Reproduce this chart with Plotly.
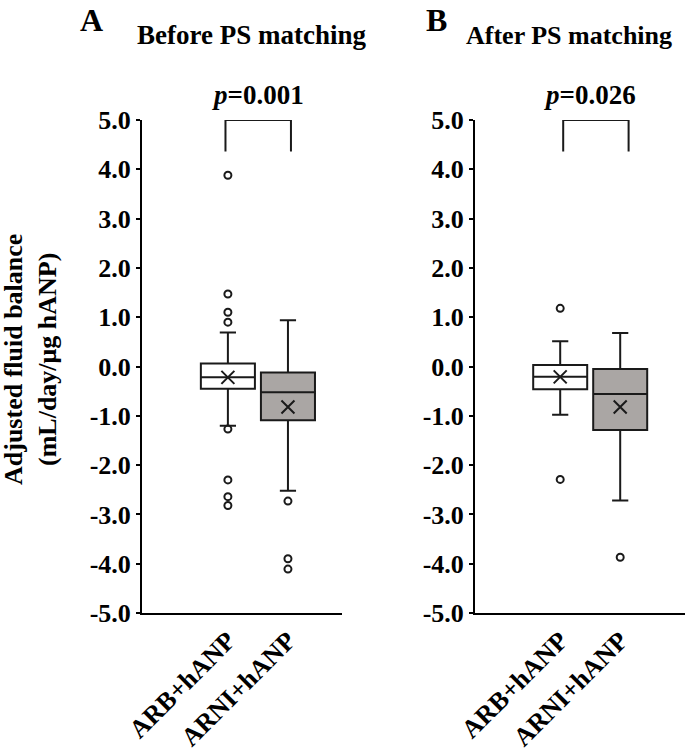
import plotly.graph_objects as go
from plotly.subplots import make_subplots

groups = ["ARB+hANP", "ARNI+hANP"]
positions = [0, 1]

# Before PS matching
before_q1 = [-0.45, -1.09]
before_median = [-0.22, -0.52]
before_q3 = [0.06, -0.12]
before_lower = [-1.20, -2.52]
before_upper = [0.69, 0.94]
before_mean = [-0.22, -0.82]
before_outliers_arb = [3.88, 1.47, 1.10, 0.90, -1.27, -2.30, -2.64, -2.82]
before_outliers_arni = [-2.73, -3.90, -4.11]

# After PS matching
after_q1 = [-0.46, -1.29]
after_median = [-0.21, -0.56]
after_q3 = [0.03, -0.05]
after_lower = [-0.98, -2.72]
after_upper = [0.51, 0.68]
after_mean = [-0.21, -0.82]
after_outliers_arb = [1.18, -2.29]
after_outliers_arni = [-3.87]

y_ticks = [5, 4, 3, 2, 1, 0, -1, -2, -3, -4, -5]
y_ticktext = ["5.0", "4.0", "3.0", "2.0", "1.0", "0.0", "-1.0", "-2.0", "-3.0", "-4.0", "-5.0"]

fills = ["#ffffff", "#aaa6a4"]
FONT = "Liberation Serif"
W, H = 685, 752
TOP, BOTTOM = 120, 613

fig = make_subplots(rows=1, cols=2)

def add_panel(col, q1, med, q3, lo, hi, mean, outs):
    for i in range(2):
        fig.add_trace(go.Box(
            x=[positions[i]], q1=[q1[i]], median=[med[i]], q3=[q3[i]],
            lowerfence=[lo[i]], upperfence=[hi[i]],
            width=0.9, whiskerwidth=0.3, boxpoints=False,
            fillcolor=fills[i], line=dict(color="#1a1a1a", width=2),
            showlegend=False, hoverinfo="skip"), row=1, col=col)
        fig.add_trace(go.Scatter(
            x=[positions[i]] * len(outs[i]), y=outs[i], mode="markers",
            marker=dict(symbol="circle-open", size=7, color="#1a1a1a",
                        line=dict(width=2, color="#1a1a1a")),
            showlegend=False), row=1, col=col)
        fig.add_trace(go.Scatter(
            x=[positions[i]], y=[mean[i]], mode="markers",
            marker=dict(symbol="x-thin-open", size=13, color="#1a1a1a",
                        line=dict(width=2, color="#1a1a1a")),
            showlegend=False), row=1, col=col)

add_panel(1, before_q1, before_median, before_q3, before_lower, before_upper,
          before_mean, [before_outliers_arb, before_outliers_arni])
add_panel(2, after_q1, after_median, after_q3, after_lower, after_upper,
          after_mean, [after_outliers_arb, after_outliers_arni])

axis_font = dict(family=FONT, size=26, color="#000000")
for col, dom, xr in [(1, [142 / W, 342 / W], [-1.43, 1.9]),
                     (2, [475 / W, 1.0], [-1.42, 2.08])]:
    fig.update_xaxes(domain=dom, range=xr, tickvals=positions, ticktext=[f"<b>{g}</b>" for g in groups],
                     tickangle=-45, tickfont=dict(family=FONT, size=26, color="#000"),
                     showline=True, linecolor="#000", linewidth=2, ticks="",
                     showgrid=False, zeroline=False, automargin=False, row=1, col=col)
    fig.update_yaxes(range=[-5, 5], tickvals=y_ticks, ticktext=[f"<b>{t}</b>" for t in y_ticktext],
                     tickfont=axis_font, showline=True, linecolor="#000", linewidth=2,
                     ticks="outside", ticklen=4, tickwidth=2, tickcolor="#000",
                     showgrid=False, zeroline=False, automargin=False, row=1, col=col)

def py(ypx):
    return (BOTTOM - ypx) / (BOTTOM - TOP)

anns = [
    dict(text="<b>A</b>", x=91 / W, y=py(0), size=32, ya="top"),
    dict(text="<b>B</b>", x=436 / W, y=py(0), size=32, ya="top"),
    dict(text="<b>Before PS matching</b>", x=252 / W, y=py(35), size=27, ya="middle"),
    dict(text="<b>After PS matching</b>", x=569 / W, y=py(35), size=26, ya="middle"),
    dict(text="<b><i>p</i>=0.001</b>", x=258 / W, y=py(95), size=27, ya="middle"),
    dict(text="<b><i>p</i>=0.026</b>", x=590 / W, y=py(95), size=27, ya="middle"),
]
for a in anns:
    fig.add_annotation(text=a["text"], x=a["x"], y=a["y"], xref="paper", yref="paper",
                       showarrow=False, xanchor="center", yanchor=a["ya"],
                       font=dict(family=FONT, size=a["size"], color="#000"))

fig.add_annotation(text="<b>Adjusted fluid balance<br>(mL/day/μg hANP)</b>",
                   x=30 / W, y=py(360), xref="paper", yref="paper", textangle=-90,
                   showarrow=False, xanchor="center", yanchor="middle",
                   font=dict(family=FONT, size=26, color="#000"))

# significance brackets
for xref, yref, x0, x1 in [("x", "y", positions[0] - 0.04, positions[1] + 0.05),
                           ("x2", "y2", positions[0] + 0.05, positions[1] + 0.14)]:
    fig.add_shape(type="path", xref=xref, yref=yref,
                  path=f"M {x0} 4.36 L {x0} 5 L {x1} 5 L {x1} 4.36",
                  line=dict(color="#1a1a1a", width=2))

fig.update_layout(width=W, height=H, margin=dict(l=0, r=0, t=TOP, b=H - BOTTOM, autoexpand=False),
                  plot_bgcolor="#ffffff", paper_bgcolor="#ffffff", showlegend=False)

fig.write_html("out.html", config={"displayModeBar": False},
               post_script="document.body.style.margin='0';")
